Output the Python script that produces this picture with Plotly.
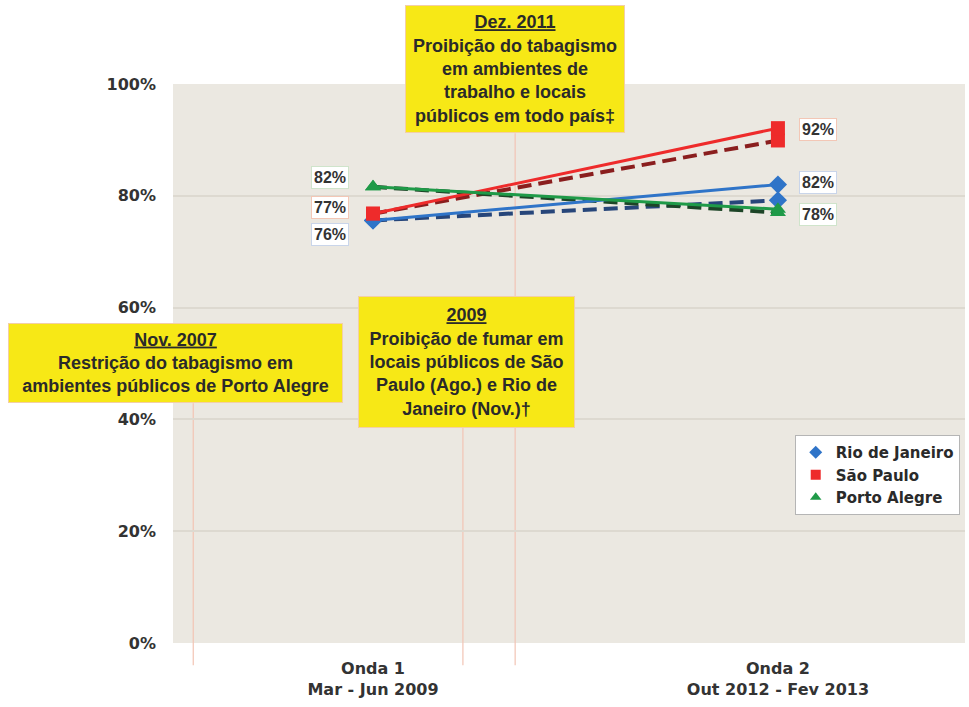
import plotly.graph_objects as go

# ---------------- data ----------------
waves = ["Onda 1<br>Mar - Jun 2009", "Onda 2<br>Out 2012 - Fev 2013"]
wave_pos = [0, 1]
cities = ["Rio de Janeiro", "São Paulo", "Porto Alegre"]
observed = {
    "Rio de Janeiro": [75.6, 82.0],
    "São Paulo": [76.8, 92.1],
    "Porto Alegre": [81.6, 77.6],
}
adjusted = {
    "Rio de Janeiro": [75.6, 79.2],
    "São Paulo": [76.8, 89.9],
    "Porto Alegre": [81.6, 77.0],
}
y_ticks = [0, 20, 40, 60, 80, 100]
y_tick_text = ["0%", "20%", "40%", "60%", "80%", "100%"]

events = [
    ("Dez. 2011", "Proibição do tabagismo<br>em ambientes de<br>trabalho e locais<br>públicos em todo país‡"),
    ("2009", "Proibição de fumar em<br>locais públicos de São<br>Paulo (Ago.) e Rio de<br>Janeiro (Nov.)†"),
    ("Nov. 2007", "Restrição do tabagismo em<br>ambientes públicos de Porto Alegre"),
]

# ---------------- styles ----------------
solid_color = {"Rio de Janeiro": "#2F74C8", "São Paulo": "#EE2B2B", "Porto Alegre": "#1F9A48"}
dash_color = {"Rio de Janeiro": "#27467A", "São Paulo": "#8A1E1E", "Porto Alegre": "#1D4527"}
symbol = {"Rio de Janeiro": "diamond", "São Paulo": "square", "Porto Alegre": "triangle-up"}
label_border = {"Rio de Janeiro": "#C9D5EA", "São Paulo": "#F3C7B6", "Porto Alegre": "#CFE4CB"}
# pixel offsets for value labels: (xshift, yshift) per wave
label_shift = {
    "Rio de Janeiro": [(-43, -14), (40, 2)],
    "São Paulo": [(-43, 6), (40, -1)],
    "Porto Alegre": [(-43, 9), (40, -5)],
}
# event box geometry: (x_paper, y_paper, width, height, line_x(data), line_top(paper))
event_geom = [
    (0.432, 1.027, 212, 120, 0.351, 0.912),
    (0.3706, 0.5027, 209, 124, 0.222, 0.385),
    (0.0032, 0.5009, 327, 72, -0.444, 0.429),
]

TICK_FONT = dict(family="DejaVu Sans", size=16, color="#333333", weight="bold")

fig = go.Figure()

# dashed (adjusted) series first
for c in cities:
    fig.add_trace(go.Scatter(
        x=wave_pos, y=adjusted[c], mode="lines+markers",
        line=dict(color=dash_color[c], width=4, dash="14px,7px"),
        marker=dict(symbol=symbol[c], size=14, color=solid_color[c]),
        showlegend=False, hoverinfo="skip", cliponaxis=False,
    ))
# solid (observed) series
for c in cities:
    fig.add_trace(go.Scatter(
        x=wave_pos, y=observed[c], mode="lines+markers",
        line=dict(color=solid_color[c], width=3),
        marker=dict(symbol=symbol[c], size=14, color=solid_color[c]),
        showlegend=False, cliponaxis=False,
    ))
# legend entries (markers only)
for c in cities:
    fig.add_trace(go.Scatter(
        x=[None], y=[None], mode="markers", name=c,
        marker=dict(symbol=symbol[c], size=10, color=solid_color[c]),
    ))

annotations = []
# value labels
for c in cities:
    for i, v in enumerate(observed[c]):
        xs, ys = label_shift[c][i]
        annotations.append(dict(
            x=wave_pos[i], y=v, xref="x", yref="y", text=f"{round(v)}%",
            showarrow=False, xshift=xs, yshift=ys,
            font=dict(family="Liberation Sans", size=16, color="#333333", weight="bold"),
            bgcolor="white", bordercolor=label_border[c], borderwidth=1, borderpad=2,
        ))

shapes = []
for (title, body), (xp, yp, w, h, lx, ltop) in zip(events, event_geom):
    shapes.append(dict(type="line", xref="x", yref="paper", x0=lx, x1=lx,
                       y0=ltop, y1=-0.04, line=dict(color="#F2C4B4", width=1.2),
                       layer="below"))
    annotations.append(dict(
        x=xp, y=yp, xref="paper", yref="paper", xanchor="center", yanchor="middle",
        text=f"<span style='text-decoration:underline'>{title}</span><br>{body}",
        showarrow=False, align="center", valign="middle", width=w, height=h,
        font=dict(family="Liberation Sans", size=18, color="#2A2A2A", weight="bold"),
        bgcolor="#F7E816", bordercolor="#F3CFA5", borderwidth=1, borderpad=3,
    ))

fig.update_layout(
    width=969, height=707,
    margin=dict(l=173, r=4, t=84, b=64),
    paper_bgcolor="white", plot_bgcolor="#EBE8E1",
    showlegend=True,
    legend=dict(x=0.785, y=0.372, xanchor="left", yanchor="top",
                bgcolor="white", bordercolor="#B5B5B5", borderwidth=1,
                font=dict(family="DejaVu Sans", size=15, color="#2A2A2A", weight="bold"),
                itemwidth=30, tracegroupgap=0),
    annotations=annotations, shapes=shapes,
    xaxis=dict(range=[-0.494, 1.462], tickmode="array", tickvals=wave_pos, ticktext=waves,
               showgrid=False, zeroline=False, showline=False, ticks="",
               tickfont=TICK_FONT, ticklabelstandoff=14, automargin=False),
    yaxis=dict(range=[0, 100], tickmode="array", tickvals=y_ticks, ticktext=y_tick_text,
               showgrid=True, gridcolor="#DDD9D0", gridwidth=1.5, zeroline=False,
               showline=False, ticks="", tickfont=TICK_FONT, ticklabelstandoff=16,
               automargin=False),
)

fig.write_html("out.html",
               config={"displayModeBar": False},
               post_script="document.body.style.margin='0';document.body.style.overflow='hidden';")
